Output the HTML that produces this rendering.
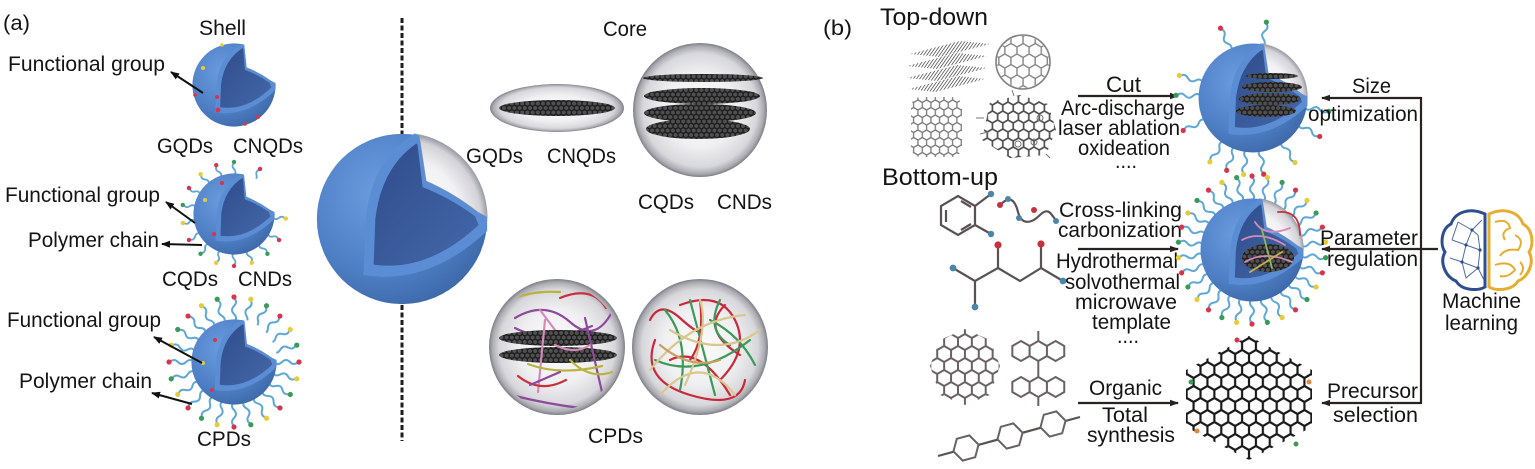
<!DOCTYPE html>
<html><head><meta charset="utf-8"><style>
html,body{margin:0;padding:0;background:#fff;}
svg{display:block;}
text{font-family:"Liberation Sans",Arial,sans-serif;fill:#141414;font-size:21px;}
</style></head><body>
<svg width="1535" height="469" viewBox="0 0 1535 469" xmlns="http://www.w3.org/2000/svg">
<defs>
 <radialGradient id="gBlue" cx="0.38" cy="0.35" r="0.75">
  <stop offset="0" stop-color="#6c9de0"/>
  <stop offset="0.6" stop-color="#4f80c6"/>
  <stop offset="1" stop-color="#3a64a4"/>
 </radialGradient>
 <linearGradient id="gInner" x1="0" y1="0" x2="1" y2="1">
  <stop offset="0" stop-color="#2f4c8a"/>
  <stop offset="1" stop-color="#4468aa"/>
 </linearGradient>
 <radialGradient id="gCap" gradientUnits="userSpaceOnUse" cx="100" cy="100" r="100">
  <stop offset="0" stop-color="#ffffff"/>
  <stop offset="0.7" stop-color="#f2f2f4"/>
  <stop offset="0.92" stop-color="#d2d2d8"/>
  <stop offset="1" stop-color="#9a9aa2"/>
 </radialGradient>
 <radialGradient id="gGlass" cx="0.5" cy="0.5" r="0.5">
  <stop offset="0" stop-color="#fbfbfb"/>
  <stop offset="0.55" stop-color="#f0f0f2"/>
  <stop offset="0.85" stop-color="#d8d8dc"/>
  <stop offset="0.95" stop-color="#ababb2"/>
  <stop offset="1" stop-color="#7e7e86"/>
 </radialGradient>
 <pattern id="gph" patternUnits="userSpaceOnUse" width="5.196" height="9">
  <rect width="5.196" height="9" fill="#505050"/>
  <path d="M2.598,0V1.5L5.196,3V6L2.598,7.5V9M2.598,1.5L0,3V6L2.598,7.5" fill="none" stroke="#1c1c1c" stroke-width="1.3"/>
 </pattern>
 <pattern id="hexL" patternUnits="userSpaceOnUse" x="1242.07" y="334" width="13.856" height="24">
  <path d="M6.928,0V4L13.856,8V16L6.928,20V24M6.928,4L0,8V16L6.928,20" fill="none" stroke="#1a1a1a" stroke-width="2.2"/>
 </pattern>
 <pattern id="hexS" patternUnits="userSpaceOnUse" width="8.66" height="15">
  <path d="M4.33,0V2.5L8.66,5V10L4.33,12.5V15M4.33,2.5L0,5V10L4.33,12.5" fill="none" stroke="#7a7a7a" stroke-width="1.3"/>
 </pattern>
 <pattern id="hexM" patternUnits="userSpaceOnUse" width="10.392" height="18">
  <path d="M5.196,0V3L10.392,6V12L5.196,15V18M5.196,3L0,6V12L5.196,15" fill="none" stroke="#505050" stroke-width="1.7"/>
 </pattern>
 <pattern id="hexF" patternUnits="userSpaceOnUse" x="1017" y="40" width="12.124" height="21">
  <path d="M6.062,0V3.5L12.124,7V14L6.062,17.5V21M6.062,3.5L0,7V14L6.062,17.5" fill="none" stroke="#858585" stroke-width="1.4"/>
 </pattern>
 <pattern id="hexP" patternUnits="userSpaceOnUse" x="958" y="330" width="13.856" height="24">
  <path d="M6.928,0V4L13.856,8V16L6.928,20V24M6.928,4L0,8V16L6.928,20" fill="none" stroke="#6a6262" stroke-width="2"/>
 </pattern>
 <pattern id="hatch" patternUnits="userSpaceOnUse" width="2.6" height="3" patternTransform="rotate(35)">
  <line x1="0" y1="0" x2="0" y2="3" stroke="#555" stroke-width="1.6"/>
 </pattern>
 <clipPath id="cpFlake"><polygon points="1249,336 1312,370 1312,427 1249,460 1186,427 1186,370"/></clipPath>
 <clipPath id="cpNT"><rect x="911" y="97" width="51" height="60" rx="10"/></clipPath>
 <clipPath id="cpGO"><polygon points="990,102 1020,95 1048,104 1056,130 1046,155 1010,158 982,140"/></clipPath>
 <clipPath id="cpFul"><circle cx="1023" cy="62" r="26"/></clipPath>
 <clipPath id="cpPAH"><polygon points="965,329 990,340 1000,366 990,395 965,405 940,395 930,366 940,340"/></clipPath>
 <clipPath id="cpL"><circle cx="557" cy="347" r="63"/></clipPath>
 <clipPath id="cpR"><circle cx="700" cy="347" r="63"/></clipPath>
 <marker id="ah" markerWidth="9" markerHeight="9" refX="8" refY="4.5" orient="auto" markerUnits="userSpaceOnUse">
  <path d="M0,1 L9,4.5 L0,8 Z" fill="#111"/>
 </marker>
 <marker id="ah2" markerWidth="9" markerHeight="9" refX="8" refY="4.5" orient="auto" markerUnits="userSpaceOnUse">
  <path d="M0,1.2 L9,4.5 L0,7.8 Z" fill="#2a2220"/>
 </marker>
 <symbol id="cutG" viewBox="0 0 200 200">
  <circle cx="100" cy="100" r="99" fill="url(#gBlue)"/>
  <path d="M114,1 A99,99 0 0 1 199,98 L188,92 Q160,70 128,56 L120,3 Z" fill="url(#gCap)" stroke="#a0a0a8" stroke-width="1"/>
  <path d="M114,1 Q64,32 58,100 L55,165 Q130,178 199,114 L199,98 L188,92 Q160,70 128,56 L120,3 Z" fill="#5b8dd4"/>
  <path d="M117,12 Q76,40 69,100 L67,153 Q130,162 189,107 L185,97 Q157,76 124,63 L118,14 Z" fill="url(#gInner)"/>
 </symbol>
 <symbol id="cutW" viewBox="0 0 200 200">
  <circle cx="100" cy="100" r="99" fill="url(#gBlue)"/>
  <path d="M118,0 A99,99 0 0 1 200,96 L188,90 Q160,70 130,58 L124,0 Z" fill="#ffffff"/>
  <path d="M118,2 Q64,32 58,100 L55,165 Q130,178 199,112 L199,96 L188,90 Q160,70 130,58 L124,4 Z" fill="#5b8dd4"/>
  <path d="M121,12 Q76,40 69,100 L67,153 Q130,162 189,106 L185,95 Q157,75 126,64 L122,14 Z" fill="url(#gInner)"/>
 </symbol>
 <g id="chR"><path d="M0,0q4,-4 0,-8t0,-8t0,-8" fill="none" stroke="#5fa8d6" stroke-width="2"/><circle cx="0" cy="-25" r="2.6" fill="#d8344c"/></g>
 <g id="chY"><path d="M0,0q4,-4 0,-8t0,-8t0,-8" fill="none" stroke="#5fa8d6" stroke-width="2"/><circle cx="0" cy="-25" r="2.6" fill="#e6cc3a"/></g>
 <g id="chG"><path d="M0,0q4,-4 0,-8t0,-8t0,-8" fill="none" stroke="#5fa8d6" stroke-width="2"/><circle cx="0" cy="-25" r="2.6" fill="#3a9a58"/></g>
 <g id="csR"><path d="M0,0q3,-3 0,-6t0,-6" fill="none" stroke="#5fa8d6" stroke-width="1.8"/><circle cx="0" cy="-13" r="2.2" fill="#d8344c"/></g>
 <g id="csY"><path d="M0,0q3,-3 0,-6t0,-6" fill="none" stroke="#5fa8d6" stroke-width="1.8"/><circle cx="0" cy="-13" r="2.2" fill="#e6cc3a"/></g>
 <g id="csG"><path d="M0,0q3,-3 0,-6t0,-6" fill="none" stroke="#5fa8d6" stroke-width="1.8"/><circle cx="0" cy="-13" r="2.2" fill="#3a9a58"/></g>
 <polygon id="hx" points="0,-10 8.66,-5 8.66,5 0,10 -8.66,5 -8.66,-5" fill="#fff" stroke="#6a6262" stroke-width="2"/>
 <polygon id="hf" points="-13,0 -6.5,-11.3 6.5,-11.3 13,0 6.5,11.3 -6.5,11.3" fill="#fff" stroke="#6a6262" stroke-width="2"/>
</defs>

<!-- ================= (a) ================= -->
<text x="3" y="30" textLength="27" lengthAdjust="spacingAndGlyphs">(a)</text>
<text x="199" y="35" textLength="47" lengthAdjust="spacingAndGlyphs">Shell</text>
<text x="8" y="71" textLength="157" lengthAdjust="spacingAndGlyphs">Functional group</text>
<text x="157" y="153" textLength="56" lengthAdjust="spacingAndGlyphs">GQDs</text>
<text x="233" y="153" textLength="70" lengthAdjust="spacingAndGlyphs">CNQDs</text>
<text x="5" y="202" textLength="155" lengthAdjust="spacingAndGlyphs">Functional group</text>
<text x="28" y="247" textLength="131" lengthAdjust="spacingAndGlyphs">Polymer chain</text>
<text x="162" y="286" textLength="56" lengthAdjust="spacingAndGlyphs">CQDs</text>
<text x="238" y="286" textLength="54" lengthAdjust="spacingAndGlyphs">CNDs</text>
<text x="7" y="327" textLength="154" lengthAdjust="spacingAndGlyphs">Functional group</text>
<text x="19" y="388" textLength="133" lengthAdjust="spacingAndGlyphs">Polymer chain</text>
<text x="197" y="446" textLength="54" lengthAdjust="spacingAndGlyphs">CPDs</text>

<!-- sphere 1 -->
<use href="#cutW" x="192" y="43" width="84" height="84"/>
<circle cx="217" cy="97" r="2" fill="#d8344c"/><circle cx="203" cy="68" r="2" fill="#e6cc3a"/>
<circle cx="218" cy="110" r="2.4" fill="#d8344c"/><circle cx="258" cy="117" r="2" fill="#d8344c"/>
<circle cx="222" cy="45" r="1.8" fill="#e6cc3a"/><circle cx="245" cy="124" r="1.8" fill="#d8344c"/>
<circle cx="195" cy="95" r="1.8" fill="#d8344c"/>

<!-- sphere 2 chains -->
<g>
<use href="#csR" transform="translate(234,214) rotate(300) translate(0,-39)"/>
<use href="#csY" transform="translate(234,214) rotate(320) translate(0,-39)"/>
<use href="#csR" transform="translate(234,214) rotate(340) translate(0,-39)"/>
<use href="#csG" transform="translate(234,214) rotate(0) translate(0,-39)"/>
<use href="#csR" transform="translate(234,214) rotate(30) translate(0,-39)"/>
<use href="#csY" transform="translate(234,214) rotate(95) translate(0,-39)"/>
<use href="#csR" transform="translate(234,214) rotate(120) translate(0,-39)"/>
<use href="#csG" transform="translate(234,214) rotate(140) translate(0,-39)"/>
<use href="#csY" transform="translate(234,214) rotate(160) translate(0,-39)"/>
<use href="#csR" transform="translate(234,214) rotate(180) translate(0,-39)"/>
<use href="#csY" transform="translate(234,214) rotate(200) translate(0,-39)"/>
<use href="#csG" transform="translate(234,214) rotate(220) translate(0,-39)"/>
<use href="#csR" transform="translate(234,214) rotate(240) translate(0,-39)"/>
<use href="#csY" transform="translate(234,214) rotate(260) translate(0,-39)"/>
<use href="#csG" transform="translate(234,214) rotate(280) translate(0,-39)"/>
</g>
<use href="#cutW" x="193" y="173" width="82" height="82"/>
<circle cx="214" cy="234" r="2" fill="#d8344c"/><circle cx="205" cy="200" r="2" fill="#e6cc3a"/><circle cx="222" cy="183" r="2" fill="#d8344c"/>

<!-- sphere 3 chains -->
<g>
<use href="#chR" transform="translate(234,362) rotate(0) translate(0,-40)"/>
<use href="#chY" transform="translate(234,362) rotate(15) translate(0,-40)"/>
<use href="#chG" transform="translate(234,362) rotate(30) translate(0,-40)"/>
<use href="#chR" transform="translate(234,362) rotate(45) translate(0,-40)"/>
<use href="#chY" transform="translate(234,362) rotate(60) translate(0,-40)"/>
<use href="#chG" transform="translate(234,362) rotate(75) translate(0,-40)"/>
<use href="#chR" transform="translate(234,362) rotate(90) translate(0,-40)"/>
<use href="#chY" transform="translate(234,362) rotate(105) translate(0,-40)"/>
<use href="#chG" transform="translate(234,362) rotate(120) translate(0,-40)"/>
<use href="#chR" transform="translate(234,362) rotate(135) translate(0,-40)"/>
<use href="#chY" transform="translate(234,362) rotate(150) translate(0,-40)"/>
<use href="#chG" transform="translate(234,362) rotate(165) translate(0,-40)"/>
<use href="#chR" transform="translate(234,362) rotate(180) translate(0,-40)"/>
<use href="#chY" transform="translate(234,362) rotate(195) translate(0,-40)"/>
<use href="#chG" transform="translate(234,362) rotate(210) translate(0,-40)"/>
<use href="#chR" transform="translate(234,362) rotate(225) translate(0,-40)"/>
<use href="#chY" transform="translate(234,362) rotate(240) translate(0,-40)"/>
<use href="#chG" transform="translate(234,362) rotate(255) translate(0,-40)"/>
<use href="#chR" transform="translate(234,362) rotate(270) translate(0,-40)"/>
<use href="#chY" transform="translate(234,362) rotate(285) translate(0,-40)"/>
<use href="#chG" transform="translate(234,362) rotate(300) translate(0,-40)"/>
<use href="#chR" transform="translate(234,362) rotate(315) translate(0,-40)"/>
<use href="#chY" transform="translate(234,362) rotate(330) translate(0,-40)"/>
<use href="#chG" transform="translate(234,362) rotate(345) translate(0,-40)"/>
</g>
<use href="#cutW" x="191" y="319" width="86" height="86"/>
<circle cx="203" cy="363" r="2" fill="#e6cc3a"/><circle cx="215" cy="340" r="2" fill="#d8344c"/><circle cx="212" cy="390" r="2" fill="#d8344c"/>

<!-- arrows (a) -->
<g stroke="#111" stroke-width="2" fill="none">
<line x1="203" y1="93" x2="171" y2="72" marker-end="url(#ah)"/>
<line x1="195" y1="223" x2="166" y2="202" marker-end="url(#ah)"/>
<line x1="202" y1="245" x2="162" y2="244" marker-end="url(#ah)"/>
<line x1="202" y1="363" x2="154" y2="337" marker-end="url(#ah)"/>
<line x1="192" y1="404" x2="152" y2="393" marker-end="url(#ah)"/>
</g>

<!-- dashed divider -->
<line x1="402" y1="18" x2="402" y2="134" stroke="#1e1e1e" stroke-width="3" stroke-dasharray="5 2.5"/>
<line x1="402" y1="305" x2="402" y2="441" stroke="#1e1e1e" stroke-width="3" stroke-dasharray="5 2.5"/>

<!-- big sphere -->
<use href="#cutG" x="316" y="133" width="172" height="172"/>

<!-- Core side -->
<text x="603" y="36" textLength="44" lengthAdjust="spacingAndGlyphs">Core</text>
<ellipse cx="557" cy="108" rx="67" ry="24" fill="url(#gGlass)"/>
<ellipse cx="557" cy="108" rx="58" ry="8" fill="url(#gph)"/>
<circle cx="700" cy="110" r="67" fill="url(#gGlass)"/>
<ellipse cx="703" cy="78" rx="60" ry="4" fill="url(#gph)"/>
<ellipse cx="702" cy="96" rx="58" ry="8" fill="url(#gph)"/>
<ellipse cx="700" cy="113" rx="56" ry="9" fill="url(#gph)"/>
<ellipse cx="698" cy="129" rx="52" ry="10" fill="url(#gph)"/>
<text x="466" y="163" textLength="57" lengthAdjust="spacingAndGlyphs">GQDs</text>
<text x="547" y="163" textLength="69" lengthAdjust="spacingAndGlyphs">CNQDs</text>
<text x="638" y="209" textLength="56" lengthAdjust="spacingAndGlyphs">CQDs</text>
<text x="717" y="209" textLength="55" lengthAdjust="spacingAndGlyphs">CNDs</text>

<circle cx="557" cy="347" r="68" fill="url(#gGlass)"/>
<circle cx="700" cy="347" r="68" fill="url(#gGlass)"/>
<g clip-path="url(#cpL)" fill="none" stroke-width="2.2" stroke-linecap="round">
 <path d="M505,302 Q530,290 560,292" stroke="#b8b43e"/>
 <path d="M515,318 Q545,300 570,322 T612,312" stroke="#8d4a9c"/>
 <path d="M560,298 Q592,285 606,308" stroke="#c8303c"/>
 <path d="M515,328 Q548,345 592,326" stroke="#8d4a9c"/>
 <path d="M540,310 L555,330" stroke="#d58ab8"/>
 <ellipse cx="558" cy="338" rx="59" ry="8" fill="url(#gph)" stroke="none"/>
 <ellipse cx="558" cy="355" rx="59" ry="8" fill="url(#gph)" stroke="none"/>
 <path d="M545,320 L538,392" stroke="#d58ab8"/>
 <path d="M585,318 L602,392" stroke="#8d4a9c"/>
 <path d="M528,364 Q560,376 602,366" stroke="#b8b43e"/>
 <path d="M518,376 Q540,394 566,380" stroke="#c8303c"/>
 <path d="M555,345 Q575,355 590,345" stroke="#d58ab8"/>
 <path d="M570,360 Q590,380 612,372" stroke="#b8b43e"/>
 <path d="M515,396 Q548,404 580,408" stroke="#8d4a9c"/>
 <path d="M530,385 L560,372" stroke="#8d4a9c"/>
</g>
<g clip-path="url(#cpR)" fill="none" stroke-width="2.2" stroke-linecap="round">
 <path d="M650,320 Q660,300 680,318 T700,330" stroke="#c8283a"/>
 <path d="M680,305 Q720,290 735,320 T720,380" stroke="#c8283a"/>
 <path d="M655,340 Q640,380 690,395 T745,380" stroke="#c8283a"/>
 <path d="M700,300 Q705,340 690,360" stroke="#c8283a"/>
 <path d="M725,305 Q700,330 740,355" stroke="#c8283a"/>
 <path d="M670,360 Q700,345 730,395" stroke="#c8283a"/>
 <path d="M665,310 Q690,340 680,390" stroke="#3a9a5a"/>
 <path d="M690,300 L715,395" stroke="#3a9a5a"/>
 <path d="M710,320 Q740,335 755,365" stroke="#3a9a5a"/>
 <path d="M655,360 Q700,380 750,340" stroke="#3a9a5a"/>
 <path d="M720,300 Q705,330 730,345" stroke="#3a9a5a"/>
 <path d="M650,370 Q690,320 745,315" stroke="#d8c890"/>
 <path d="M660,395 Q700,350 735,395" stroke="#d8c890"/>
 <path d="M670,330 Q720,360 760,330" stroke="#d8c890"/>
 <path d="M685,385 Q710,330 700,300" stroke="#d8c890"/>
 <path d="M660,345 Q690,370 720,360" stroke="#c8a060"/>
</g>
<text x="588" y="443" textLength="55" lengthAdjust="spacingAndGlyphs">CPDs</text>

<!-- ================= (b) ================= -->
<text x="823" y="35" textLength="29" lengthAdjust="spacingAndGlyphs">(b)</text>
<text x="880" y="25" style="font-size:24px" textLength="108" lengthAdjust="spacingAndGlyphs">Top-down</text>
<text x="882" y="185" style="font-size:24px" textLength="116" lengthAdjust="spacingAndGlyphs">Bottom-up</text>

<!-- graphite stack -->
<g fill="url(#hatch)">
 <polygon points="910,54 960,41 990,44 940,57"/>
 <polygon points="907,66 957,53 987,56 937,69"/>
 <polygon points="907,78 957,65 987,68 937,81"/>
 <polygon points="909,89 959,76 985,79 935,92"/>
</g>
<!-- fullerene -->
<rect x="995" y="34" width="56" height="56" fill="url(#hexF)" clip-path="url(#cpFul)"/>
<circle cx="1023" cy="62" r="27" fill="none" stroke="#808080" stroke-width="1.6"/>
<!-- nanotube -->
<rect x="905" y="95" width="62" height="64" fill="url(#hexS)" clip-path="url(#cpNT)"/>
<!-- graphene oxide -->
<rect x="978" y="92" width="82" height="68" fill="url(#hexM)" clip-path="url(#cpGO)"/>
<g stroke="#777" stroke-width="1" fill="none">
 <path d="M1014,96 L1012,90 M1046,154 L1050,158 M984,118 L976,118 M988,132 L980,134"/>
 <circle cx="1040" cy="118" r="3"/><circle cx="1034" cy="142" r="3"/><circle cx="1018" cy="144" r="3"/>
</g>

<!-- Cut arrow -->
<line x1="1078" y1="96" x2="1178" y2="96" stroke="#2a2220" stroke-width="2.2" marker-end="url(#ah2)"/>
<text x="1106" y="92" style="font-size:22px" textLength="35" lengthAdjust="spacingAndGlyphs">Cut</text>
<text x="1061" y="115" textLength="124" lengthAdjust="spacingAndGlyphs">Arc-discharge</text>
<text x="1058" y="135" textLength="122" lengthAdjust="spacingAndGlyphs">laser ablation</text>
<text x="1078" y="155" textLength="92" lengthAdjust="spacingAndGlyphs">oxideation</text>
<text x="1115" y="168" textLength="22" lengthAdjust="spacingAndGlyphs">....</text>

<!-- bottom-up molecules -->
<g stroke="#5a5252" stroke-width="2.2" fill="none">
 <polygon points="958,196 975,206 975,225 958,235 941,225 941,206"/>
 <path d="M946,210 V222 M961,201 L971,207 M961,230 L971,224"/>
 <path d="M975,206 L991,194 M975,225 L991,234"/>
 <path d="M1000,205 C1010,195 1015,200 1018,212 S1030,225 1040,215 S1052,218 1058,222"/>
 <path d="M953,268 L975,281 L975,307 M975,281 L998,268 L998,245 M998,268 L1020,281 L1041,268 L1041,244 M1041,268 L1063,281"/>
 <path d="M938,456 L1080,417"/>
</g>
<circle cx="991" cy="194" r="3.2" fill="#4a86a8"/><circle cx="991" cy="234" r="3.2" fill="#4a86a8"/>
<circle cx="1000" cy="205" r="3" fill="#c8303c"/><circle cx="1008" cy="199" r="3" fill="#4a86a8"/>
<circle cx="1019" cy="218" r="3" fill="#4a86a8"/><circle cx="1034" cy="210" r="3" fill="#c8303c"/>
<circle cx="1056" cy="221" r="3" fill="#4a86a8"/>
<circle cx="953" cy="268" r="3.4" fill="#4a86a8"/><circle cx="975" cy="307" r="3.4" fill="#4a86a8"/>
<circle cx="998" cy="245" r="3.6" fill="#c8303c"/><circle cx="1041" cy="244" r="3.6" fill="#c8303c"/>
<circle cx="1063" cy="281" r="3.4" fill="#4a86a8"/>

<rect x="925" y="325" width="80" height="85" fill="url(#hexP)" clip-path="url(#cpPAH)"/>
<use href="#hx" x="1021" y="351"/><use href="#hx" x="1038.3" y="351"/><use href="#hx" x="1055.6" y="351"/>
<use href="#hx" x="1021" y="387"/><use href="#hx" x="1038.3" y="387"/><use href="#hx" x="1055.6" y="387"/>
<g stroke="#6a6262" stroke-width="2"><line x1="1038.3" y1="361" x2="1038.3" y2="377"/><line x1="1038.3" y1="341" x2="1038.3" y2="331"/><line x1="1038.3" y1="397" x2="1038.3" y2="406"/></g>
<use href="#hf" transform="translate(966,448) rotate(-15)"/>
<use href="#hf" transform="translate(1010,436) rotate(-15)"/>
<use href="#hf" transform="translate(1053,424) rotate(-15)"/>

<line x1="1078" y1="249" x2="1178" y2="249" stroke="#2a2220" stroke-width="2.2" marker-end="url(#ah2)"/>
<text x="1059" y="217" textLength="123" lengthAdjust="spacingAndGlyphs">Cross-linking</text>
<text x="1058" y="237" textLength="124" lengthAdjust="spacingAndGlyphs">carbonization</text>
<text x="1056" y="268" textLength="122" lengthAdjust="spacingAndGlyphs">Hydrothermal</text>
<text x="1065" y="289" textLength="115" lengthAdjust="spacingAndGlyphs">solvothermal</text>
<text x="1075" y="309" textLength="102" lengthAdjust="spacingAndGlyphs">microwave</text>
<text x="1092" y="329" textLength="79" lengthAdjust="spacingAndGlyphs">template</text>
<text x="1117" y="343" textLength="22" lengthAdjust="spacingAndGlyphs">....</text>

<line x1="1078" y1="403" x2="1178" y2="403" stroke="#2a2220" stroke-width="2.2" marker-end="url(#ah2)"/>
<text x="1089" y="395" textLength="73" lengthAdjust="spacingAndGlyphs">Organic</text>
<text x="1102" y="422" textLength="46" lengthAdjust="spacingAndGlyphs">Total</text>
<text x="1087" y="442" textLength="88" lengthAdjust="spacingAndGlyphs">synthesis</text>

<!-- top (b) sphere -->
<g>
<use href="#chR" transform="translate(1253,98) rotate(335) translate(0,-52)"/>
<use href="#chG" transform="translate(1253,98) rotate(10) translate(0,-52)"/>
<use href="#chY" transform="translate(1253,98) rotate(287) translate(0,-52)"/>
<use href="#chG" transform="translate(1253,98) rotate(272) translate(0,-52)"/>
<use href="#chR" transform="translate(1253,98) rotate(245) translate(0,-52)"/>
<use href="#chY" transform="translate(1253,98) rotate(214) translate(0,-52)"/>
<use href="#chR" transform="translate(1253,98) rotate(200) translate(0,-52)"/>
<use href="#chY" transform="translate(1253,98) rotate(187) translate(0,-52)"/>
<use href="#chR" transform="translate(1253,98) rotate(172) translate(0,-52)"/>
<use href="#chY" transform="translate(1253,98) rotate(147) translate(0,-52)"/>
<use href="#chR" transform="translate(1253,98) rotate(120) translate(0,-52)"/>
<use href="#chG" transform="translate(1253,98) rotate(100) translate(0,-52)"/>
</g>
<use href="#cutG" x="1198" y="43" width="110" height="110"/>
<ellipse cx="1272" cy="76" rx="26" ry="3" fill="url(#gph)"/>
<ellipse cx="1272" cy="87" rx="30" ry="5" fill="url(#gph)"/>
<ellipse cx="1270" cy="99" rx="31" ry="6" fill="url(#gph)"/>
<ellipse cx="1266" cy="111" rx="30" ry="6" fill="url(#gph)"/>

<!-- middle (b) sphere -->
<g>
<use href="#chR" transform="translate(1252,250) rotate(0) translate(0,-49)"/>
<use href="#chY" transform="translate(1252,250) rotate(12) translate(0,-49)"/>
<use href="#chG" transform="translate(1252,250) rotate(24) translate(0,-49)"/>
<use href="#chR" transform="translate(1252,250) rotate(36) translate(0,-49)"/>
<use href="#chY" transform="translate(1252,250) rotate(48) translate(0,-49)"/>
<use href="#chG" transform="translate(1252,250) rotate(60) translate(0,-49)"/>
<use href="#chR" transform="translate(1252,250) rotate(72) translate(0,-49)"/>
<use href="#chY" transform="translate(1252,250) rotate(84) translate(0,-49)"/>
<use href="#chG" transform="translate(1252,250) rotate(96) translate(0,-49)"/>
<use href="#chR" transform="translate(1252,250) rotate(108) translate(0,-49)"/>
<use href="#chY" transform="translate(1252,250) rotate(120) translate(0,-49)"/>
<use href="#chG" transform="translate(1252,250) rotate(132) translate(0,-49)"/>
<use href="#chR" transform="translate(1252,250) rotate(144) translate(0,-49)"/>
<use href="#chY" transform="translate(1252,250) rotate(156) translate(0,-49)"/>
<use href="#chG" transform="translate(1252,250) rotate(168) translate(0,-49)"/>
<use href="#chR" transform="translate(1252,250) rotate(180) translate(0,-49)"/>
<use href="#chY" transform="translate(1252,250) rotate(192) translate(0,-49)"/>
<use href="#chG" transform="translate(1252,250) rotate(204) translate(0,-49)"/>
<use href="#chR" transform="translate(1252,250) rotate(216) translate(0,-49)"/>
<use href="#chY" transform="translate(1252,250) rotate(228) translate(0,-49)"/>
<use href="#chG" transform="translate(1252,250) rotate(240) translate(0,-49)"/>
<use href="#chR" transform="translate(1252,250) rotate(252) translate(0,-49)"/>
<use href="#chY" transform="translate(1252,250) rotate(264) translate(0,-49)"/>
<use href="#chG" transform="translate(1252,250) rotate(276) translate(0,-49)"/>
<use href="#chR" transform="translate(1252,250) rotate(288) translate(0,-49)"/>
<use href="#chY" transform="translate(1252,250) rotate(300) translate(0,-49)"/>
<use href="#chG" transform="translate(1252,250) rotate(312) translate(0,-49)"/>
<use href="#chR" transform="translate(1252,250) rotate(324) translate(0,-49)"/>
<use href="#chY" transform="translate(1252,250) rotate(336) translate(0,-49)"/>
<use href="#chG" transform="translate(1252,250) rotate(348) translate(0,-49)"/>
</g>
<use href="#cutG" x="1200" y="198" width="104" height="104"/>
<ellipse cx="1268" cy="258" rx="26" ry="14" fill="url(#gph)"/>
<g fill="none" stroke-width="1.8" stroke-linecap="round">
 <path d="M1242,240 Q1260,230 1285,245" stroke="#d58ab8"/>
 <path d="M1245,262 Q1265,250 1292,262" stroke="#d58ab8"/>
 <path d="M1250,272 L1282,252" stroke="#c8b050"/>
 <path d="M1255,222 Q1265,238 1290,228" stroke="#d58ab8"/>
 <path d="M1262,230 L1272,268" stroke="#8bb85a"/>
 <path d="M1278,212 Q1300,210 1300,235" stroke="#c8303c"/>
</g>

<!-- graphene flake -->
<rect x="1180" y="330" width="140" height="135" fill="url(#hexL)" clip-path="url(#cpFlake)"/>
<circle cx="1237" cy="340" r="2.5" fill="#d8344c"/><circle cx="1191" cy="382" r="2.5" fill="#3a9a58"/>
<circle cx="1309" cy="382" r="2.5" fill="#e08a40"/><circle cx="1197" cy="431" r="2.5" fill="#e08a40"/>
<circle cx="1296" cy="444" r="2.5" fill="#3a9a58"/>

<!-- feedback lines -->
<g stroke="#2a2220" stroke-width="2.2" fill="none">
 <line x1="1421" y1="97" x2="1421" y2="404"/>
 <line x1="1421" y1="98" x2="1322" y2="98" marker-end="url(#ah2)"/>
 <line x1="1438" y1="249" x2="1322" y2="249" marker-end="url(#ah2)"/>
 <line x1="1421" y1="403" x2="1322" y2="403" marker-end="url(#ah2)"/>
</g>
<text x="1352" y="93" textLength="39" lengthAdjust="spacingAndGlyphs">Size</text>
<text x="1308" y="121" textLength="110" lengthAdjust="spacingAndGlyphs">optimization</text>
<text x="1320" y="245" textLength="98" lengthAdjust="spacingAndGlyphs">Parameter</text>
<text x="1327" y="266" textLength="91" lengthAdjust="spacingAndGlyphs">regulation</text>
<text x="1327" y="398" textLength="91" lengthAdjust="spacingAndGlyphs">Precursor</text>
<text x="1333" y="422" textLength="85" lengthAdjust="spacingAndGlyphs">selection</text>

<!-- brain -->
<path d="M1485,214 C1470,207 1455,212 1451,224 C1441,229 1440,245 1445,252 C1439,263 1446,277 1456,281 C1462,291 1478,291 1485,287 Z" fill="#fff" stroke="#2e4f8f" stroke-width="3"/>
<g stroke="#4d6aa3" stroke-width="1" fill="none">
 <path d="M1458,222 L1472,230 L1482,220 M1472,230 L1466,245 L1452,240 M1466,245 L1480,250 L1478,235 M1466,245 L1462,262 L1450,258 M1462,262 L1478,268 L1480,250 M1462,262 L1466,278 L1478,268 L1484,280 M1458,222 L1452,240 M1472,230 L1478,235"/>
</g>
<g fill="#2e4f8f"><circle cx="1472" cy="230" r="1.6"/><circle cx="1466" cy="245" r="1.6"/><circle cx="1462" cy="262" r="1.6"/><circle cx="1478" cy="268" r="1.6"/><circle cx="1480" cy="250" r="1.6"/></g>
<path d="M1489,214 C1504,207 1519,212 1523,224 C1533,229 1534,245 1529,252 C1535,263 1528,277 1518,281 C1512,291 1496,291 1489,287 Z" fill="#fff" stroke="#e6ae2f" stroke-width="3"/>
<g stroke="#e6ae2f" stroke-width="2" fill="none">
 <path d="M1495,222 Q1508,218 1510,228 Q1500,232 1505,240"/>
 <path d="M1515,235 Q1525,240 1518,250 Q1505,248 1500,256"/>
 <path d="M1495,265 Q1510,260 1515,270 Q1508,278 1500,276"/>
 <path d="M1520,262 Q1526,268 1520,275"/>
</g>
<text x="1442" y="308" textLength="79" lengthAdjust="spacingAndGlyphs">Machine</text>
<text x="1445" y="330" textLength="73" lengthAdjust="spacingAndGlyphs">learning</text>
</svg>
</body></html>
